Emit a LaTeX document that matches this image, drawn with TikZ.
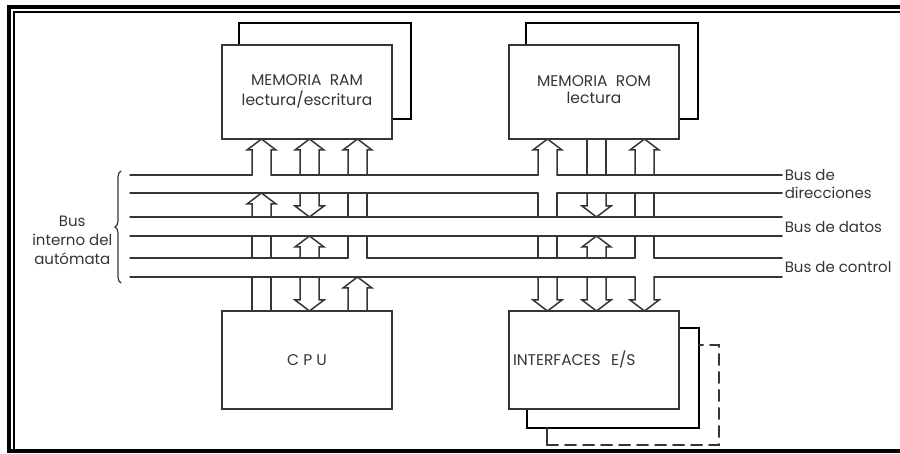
\documentclass[tikz,border=0pt]{standalone}
\usepackage{fontspec}
\setmainfont{Poppins}
\usetikzlibrary{backgrounds,decorations.pathreplacing}
\definecolor{ink}{RGB}{55,52,56}
\newcommand{\walls}[3]{\draw (#1,#2) -- (#1,#3) (#1+19,#2) -- (#1+19,#3);}
\newcommand{\uparr}[3]{\draw (#1,#2) -- (#1,#3+11) -- (#1-5,#3+11) -- (#1+9.5,#3) -- (#1+24,#3+11) -- (#1+19,#3+11) -- (#1+19,#2);}
\newcommand{\downarr}[3]{\draw (#1,#2) -- (#1,#3-11) -- (#1-5,#3-11) -- (#1+9.5,#3) -- (#1+24,#3-11) -- (#1+19,#3-11) -- (#1+19,#2);}
\begin{document}
\begin{tikzpicture}[x=1pt,y=-1pt,color=ink,line width=1.5pt,line cap=round,
  box/.style={draw,line width=2pt,fill=white,minimum width=170pt,minimum height=94pt,inner sep=0pt,align=center,font=\fontsize{15.5}{17}\selectfont},
  iobox/.style={box,minimum height=98pt},
  backbox/.style={draw,line width=2pt,fill=white},
  busname/.style={anchor=west,inner sep=0pt,align=left,font=\fontsize{15}{18}\selectfont}]
\useasboundingbox (0,0) rectangle (900,454);
\node[box] (ram) at (307,92) {\raisebox{-4pt}{\begin{tabular}{@{}c@{}}MEMORIA\ \ RAM\\lectura/escritura\end{tabular}}};
\node[box] (rom) at (594,92) {\raisebox{-4pt}{\begin{tabular}{@{}c@{}}MEMORIA\ \ ROM\\lectura\end{tabular}}};
\node[iobox] (cpu) at (307,360) {C\ P\ U};
\node[iobox,text width=162pt,align=left] (io) at (594,360) {INTERFACES\ \ E/S};
\begin{scope}[on background layer]
\draw[backbox] ([shift={(18,-21)}]ram.north west) rectangle ([shift={(18,-21)}]ram.south east);
\draw[backbox] ([shift={(18,-21)}]rom.north west) rectangle ([shift={(18,-21)}]rom.south east);
\draw[backbox] ([shift={(19,18)}]io.north west) rectangle ([shift={(19,18)}]io.south east);
\end{scope}
\draw[line width=2pt] ([shift={(39,35)}]io.south west) -- ++(0,-17);
\draw[line width=2pt,dash pattern=on 11pt off 7pt] ([shift={(39,35)}]io.south west) -| ([shift={(39,35)}]io.north east) -- ++(-20,0);
\node[busname] (ldir) at (784,184) {Bus de\\direcciones};
\node[busname] (ldat) at (784,227) {Bus de datos};
\node[busname] (lctl) at (784,267) {Bus de control};
\node[anchor=east,inner sep=0pt,align=center,font=\fontsize{15}{19}\selectfont] (lbus) at (113,240) {Bus\\interno del\\autómata};
\draw[decorate,decoration={brace,amplitude=6pt},line width=1.2pt] (121,283) -- (121,171);
\draw (130,175) -- (252,175) (271,175) -- (538,175) (557,175) -- (782,175);
\draw (130,193) -- (538,193) (557,193) -- (782,193);
\draw (130,217) -- (782,217);
\draw (130,236) -- (782,236);
\draw (130,258) -- (348,258) (367,258) -- (635,258) (654,258) -- (782,258);
\draw (130,277) -- (635,277) (654,277) -- (782,277);
\uparr{252}{175}{139}
\uparr{300}{175}{139} \downarr{300}{193}{217}
\uparr{348}{175}{139} \walls{348}{193}{217} \walls{348}{236}{258}
\uparr{252}{217}{193} \walls{252}{236}{258} \walls{252}{277}{311}
\uparr{300}{258}{236} \downarr{300}{277}{311}
\uparr{348}{311}{277}
\uparr{538}{175}{139}
\walls{587}{139}{175} \downarr{587}{193}{217}
\uparr{635}{175}{139} \walls{635}{193}{217} \walls{635}{236}{258}
\walls{538}{193}{217} \walls{538}{236}{258} \downarr{538}{277}{311}
\uparr{587}{258}{236} \downarr{587}{277}{311}
\downarr{635}{277}{311}
\draw[black,line width=4pt,line cap=butt] (900,7) -- (9,7) -- (9,451) -- (900,451);
\draw[black,line width=1.8pt,line cap=butt] (900,12) -- (14,12) -- (14,449);
\end{tikzpicture}
\end{document}
